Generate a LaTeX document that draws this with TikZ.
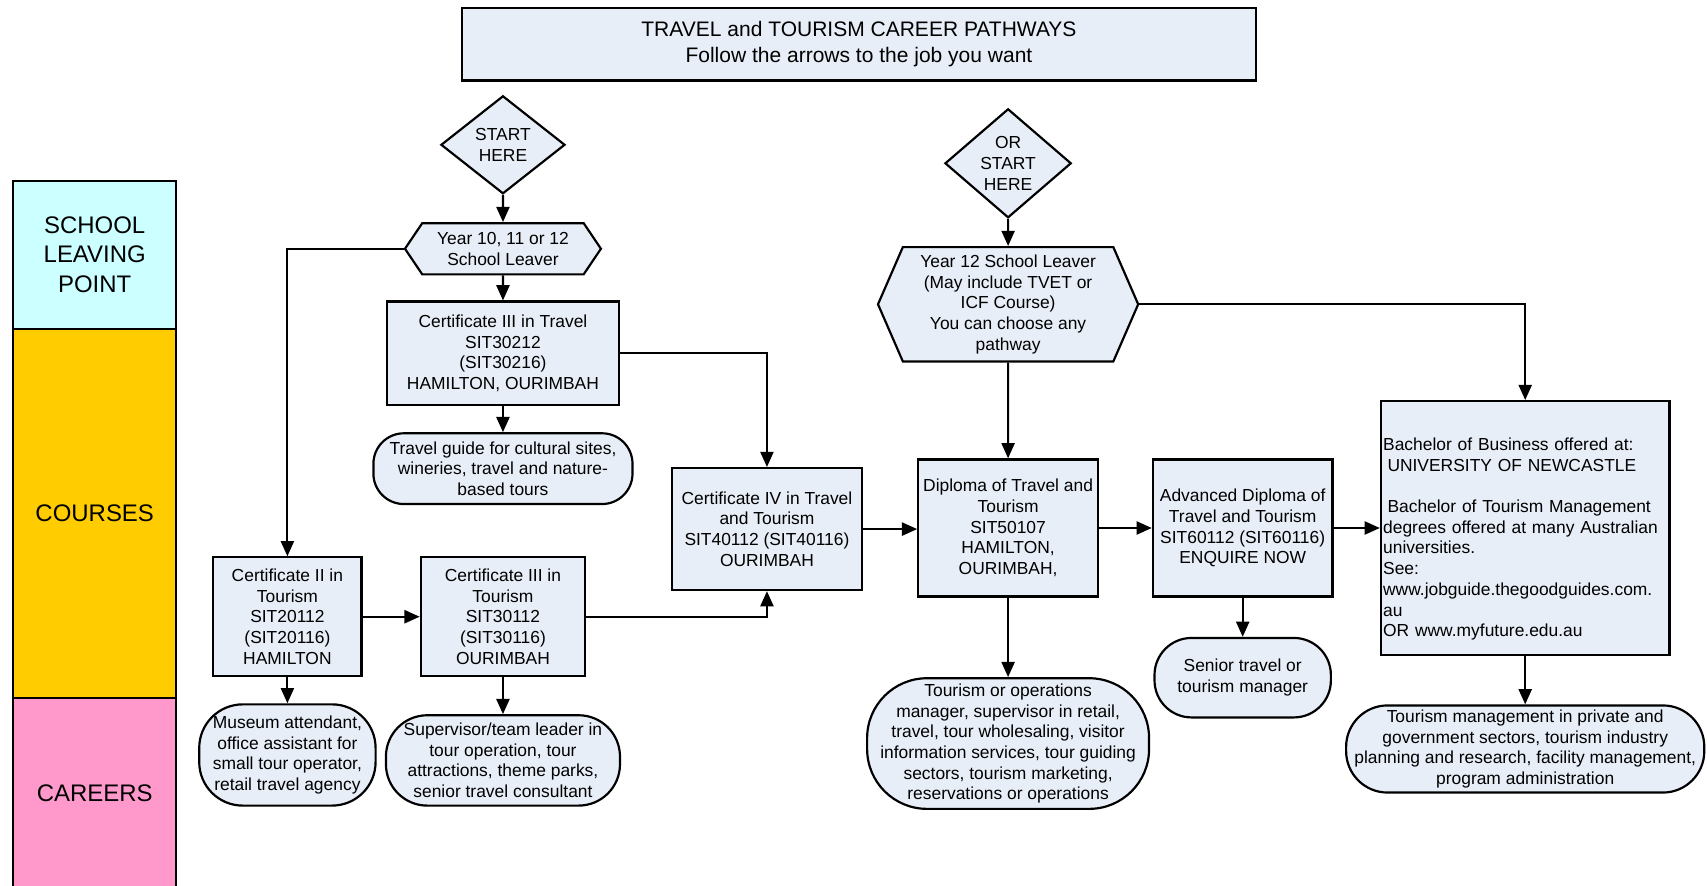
\documentclass[tikz,border=0pt]{standalone}
\usepackage{fontspec}
\setmainfont{Liberation Sans}
\usetikzlibrary{shapes.geometric,shapes.symbols,arrows.meta}
\definecolor{boxfill}{HTML}{E8EEF7}
\definecolor{leavefill}{HTML}{CCFFFF}
\definecolor{coursefill}{HTML}{FFCC00}
\definecolor{careerfill}{HTML}{FF99CC}
\begin{document}
\begin{tikzpicture}[x=1pt,y=-1pt,
  base/.style={draw,line width=2pt,fill=boxfill,align=center,inner sep=0pt,font=\fontsize{16}{19}\selectfont},
  box/.style={base,rectangle},
  pill/.style={base,rectangle,rounded corners=#1},
  diam/.style={base,diamond},
  hexa/.style={base,signal,signal to=east and west,signal pointer angle=#1},
  band/.style={draw,line width=2pt,minimum width=150pt,align=center,font=\fontsize{22}{27}\selectfont},
  arr/.style={line width=2pt,-{Triangle[length=14pt,width=12pt]}}]
  \useasboundingbox (0,0) rectangle (1568,813);
  \node[band,fill=leavefill,minimum height=136pt] (leave) at (87,234) {SCHOOL\\ LEAVING\\ POINT};
  \node[band,fill=coursefill,minimum height=339pt] (courses) at (87,471.5) {COURSES};
  \node[band,fill=careerfill,minimum height=175pt] (careers) at (87,728.5) {CAREERS};
  \node[box,minimum width=730pt,minimum height=67pt,font=\fontsize{19.3}{24}\selectfont] (title) at (789,40.5) {TRAVEL and TOURISM CAREER PATHWAYS\\ Follow the arrows to the job you want};
  \node[diam,minimum width=114pt,minimum height=90pt] (start) at (462,133) {START\\ HERE};
  \node[hexa=112,minimum width=180pt,minimum height=47pt] (y10) at (462,228.5) {Year 10, 11 or 12\\ School Leaver};
  \node[box,minimum width=213pt,minimum height=95pt] (c3tr) at (462,324.5) {Certificate III in Travel\\ SIT30212\\ (SIT30216)\\ HAMILTON, OURIMBAH};
  \node[pill=28pt,minimum width=238pt,minimum height=65pt] (guide) at (462,430.5) {Travel guide for cultural sites,\\ wineries, travel and nature-\\ based tours};
  \node[box,minimum width=175pt,minimum height=112pt] (c4) at (704.5,486) {Certificate IV in Travel\\ and Tourism\\ SIT40112 (SIT40116)\\ OURIMBAH};
  \node[box,minimum width=136pt,minimum height=109pt] (c2) at (264,566.5) {Certificate II in\\ Tourism\\ SIT20112\\ (SIT20116)\\ HAMILTON};
  \node[box,minimum width=151pt,minimum height=109pt] (c3to) at (462,566.5) {Certificate III in\\ Tourism\\ SIT30112\\ (SIT30116)\\ OURIMBAH};
  \node[pill=40pt,minimum width=162pt,minimum height=93pt] (museum) at (264,693.5) {Museum attendant,\\ office assistant for\\ small tour operator,\\ retail travel agency};
  \node[pill=38pt,minimum width=215pt,minimum height=83pt] (superv) at (462,698.5) {Supervisor/team leader in\\ tour operation, tour\\ attractions, theme parks,\\ senior travel consultant};
  \node[diam,minimum width=116pt,minimum height=93pt] (orstart) at (926,150) {OR\\ START\\ HERE};
  \node[hexa=133,minimum width=239pt,minimum height=105pt] (y12) at (926,279.5) {Year 12 School Leaver\\ (May include TVET or\\ ICF Course)\\ You can choose any\\ pathway};
  \node[box,minimum width=165pt,minimum height=126pt] (dip) at (926,485) {Diploma of Travel and\\ Tourism\\ SIT50107\\ HAMILTON,\\ OURIMBAH,};
  \node[box,minimum width=165pt,minimum height=126pt] (adv) at (1141.5,485) {Advanced Diploma of\\ Travel and Tourism\\ SIT60112 (SIT60116)\\ ENQUIRE NOW};
  \node[pill=55pt,minimum width=259pt,minimum height=120pt] (ops) at (926,683) {Tourism or operations\\ manager, supervisor in retail,\\ travel, tour wholesaling, visitor\\ information services, tour guiding\\ sectors, tourism marketing,\\ reservations or operations};
  \node[pill=34pt,minimum width=162pt,minimum height=73pt] (senior) at (1141.5,622.5) {Senior travel or\\ tourism manager};
  \node[box,minimum width=265pt,minimum height=233pt,align=left,text width=261pt,text height=32pt] (bach) at (1401,485) {Bachelor of Business offered at:\\ \hspace*{4pt}UNIVERSITY OF NEWCASTLE\\[19pt] \hspace*{4pt}Bachelor of Tourism Management\\ degrees offered at many Australian\\ universities.\\ See:\\ www.jobguide.thegoodguides.com.\\ au\\ OR www.myfuture.edu.au};
  \node[pill=38pt,minimum width=329pt,minimum height=80pt] (mgmt) at (1401,688) {Tourism management in private and\\ government sectors, tourism industry\\ planning and research, facility management,\\ program administration};
  \draw[arr] (start) -- (y10);
  \draw[arr] (y10) -- (c3tr);
  \draw[arr] (y10.west) -| (c2.north);
  \draw[arr] (c3tr) -- (guide);
  \draw[arr] (c3tr.east) -| (c4.north);
  \draw[arr] (c2) -- (c3to);
  \draw[arr] (c3to.east) -| (c4.south);
  \draw[arr] (c2) -- (museum);
  \draw[arr] (c3to) -- (superv);
  \draw[arr] (c4.east) -- (c4.east -| dip.west);
  \draw[arr] (orstart) -- (y12);
  \draw[arr] (y12) -- (dip);
  \draw[arr] (y12.east) -| (bach.north);
  \draw[arr] (dip) -- (adv);
  \draw[arr] (adv) -- (bach);
  \draw[arr] (dip) -- (ops);
  \draw[arr] (adv) -- (senior);
  \draw[arr] (bach) -- (mgmt);
\end{tikzpicture}
\end{document}
